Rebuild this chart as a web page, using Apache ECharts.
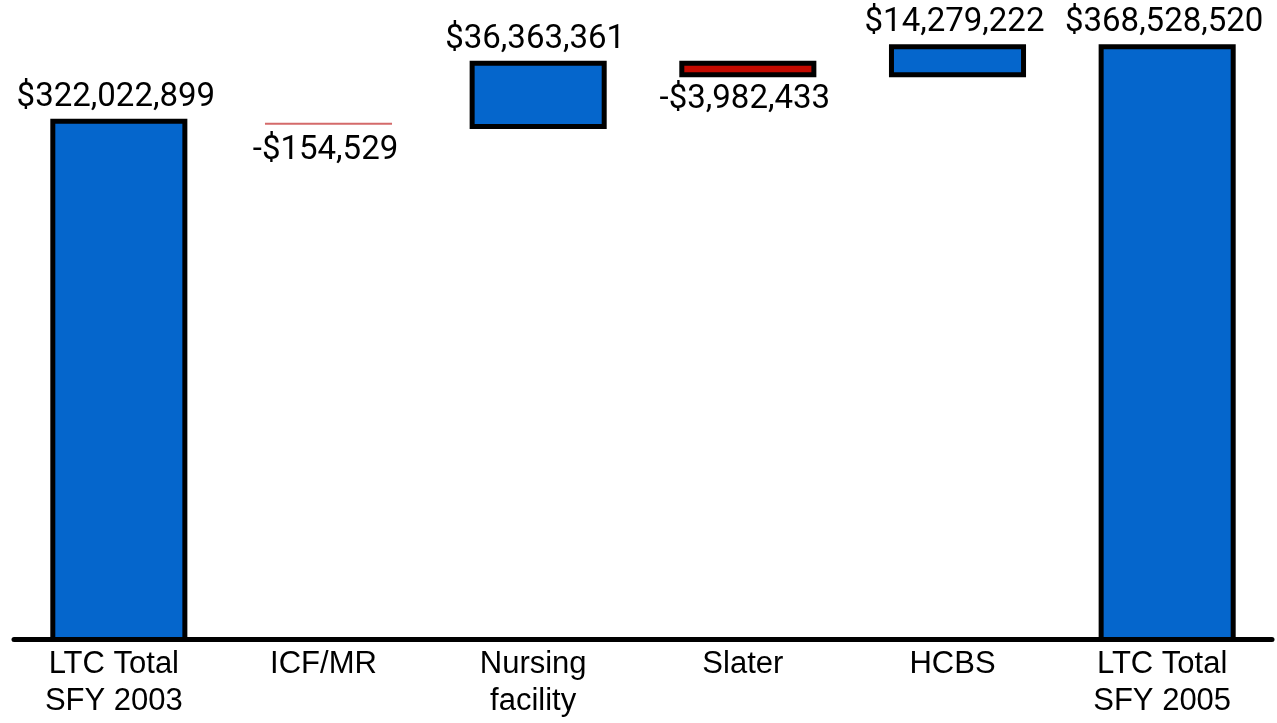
<!DOCTYPE html>
<html>
<head>
<meta charset="utf-8">
<script src="https://cdn.jsdelivr.net/npm/echarts@6/dist/echarts.min.js"></script>
<style>
html,body{margin:0;padding:0;background:#fff;}
#chart{width:1277px;height:723px;}
</style>
</head>
<body>
<div id="chart"></div>
<script>
// Data
var categories = ['LTC Total\nSFY 2003', 'ICF/MR', 'Nursing\nfacility', 'Slater', 'HCBS', 'LTC Total\nSFY 2005'];
var changes = [322022899, -154529, 36363361, -3982433, 14279222, 368528520];
var isTotal = [true, false, false, false, false, true];

var BLUE = '#0566cc', RED = '#c40a00', THIN_RED = '#d46a6a';

// waterfall rows: [index, start, end, signedChange]
var rows = [];
var running = 0;
for (var i = 0; i < changes.length; i++) {
  var v = changes[i];
  if (isTotal[i]) {
    rows.push([i, 0, v, v]);
    running = v;
  } else {
    rows.push([i, running, running + v, v]);
    running += v;
  }
}

function fmt(n) {
  var s = Math.abs(n).toString().replace(/\B(?=(\d{3})+(?!\d))/g, ',');
  return (n < 0 ? '-$' : '$') + s;
}

var B = 5; // outer border width
var LABEL_FONT = '33px Roboto, sans-serif';

function renderItem(params, api) {
  var idx = api.value(0);
  var s = api.value(1), e = api.value(2), ch = api.value(3);
  var lo = Math.min(s, e), hi = Math.max(s, e);
  var pHi = api.coord([idx, hi]);
  var pLo = api.coord([idx, lo]);
  var band = api.size([1, 0])[0];
  var w = band * 0.606;
  var x = pHi[0] - w / 2;
  var yTop = pHi[1];
  var h = pLo[1] - pHi[1];
  var children = [];
  var small = h < 2;
  var outerTop, outerBottom;
  if (small) {
    children.push({type: 'rect', shape: {x: x, y: yTop - 1, width: w, height: 2}, style: {fill: THIN_RED}});
    outerTop = yTop - 1; outerBottom = yTop + 1;
  } else {
    var fill = ch < 0 ? RED : BLUE;
    var bottomExt = lo === 0 ? 0 : B;
    outerTop = yTop - B; outerBottom = yTop + h + bottomExt;
    children.push({type: 'rect', shape: {x: x - B, y: outerTop, width: w + 2 * B, height: h + B + bottomExt}, style: {fill: '#000'}});
    children.push({type: 'rect', shape: {x: x, y: yTop, width: w, height: h}, style: {fill: fill}});
  }
  var cx = pHi[0] - 3;
  if (ch >= 0) {
    children.push({type: 'text', style: {text: fmt(ch), x: cx, y: outerTop - 5, font: LABEL_FONT, fill: '#000', textAlign: 'center', textVerticalAlign: 'bottom'}});
  } else {
    children.push({type: 'text', style: {text: fmt(ch), x: cx, y: outerBottom + (small ? 9 : 6), font: LABEL_FONT, fill: '#000', textAlign: 'center', textVerticalAlign: 'top'}});
  }
  return {type: 'group', children: children};
}

var chart = echarts.init(document.getElementById('chart'));
chart.setOption({
  animation: false,
  grid: {left: 14, right: 5, top: 31, bottom: 84},
  xAxis: {
    type: 'category',
    data: categories,
    axisTick: {show: false},
    axisLine: {lineStyle: {color: '#000', width: 5}, z: 10},
    z: 10,
    axisLabel: {
      color: '#000',
      fontFamily: 'Liberation Sans, Arial, sans-serif',
      fontSize: 31,
      lineHeight: 37,
      margin: 7,
      padding: [0, 10, 0, 0],
      interval: 0
    }
  },
  yAxis: {
    type: 'value',
    min: 0,
    max: 380000000,
    show: false,
    splitLine: {show: false}
  },
  series: [
    {
      type: 'custom',
      renderItem: renderItem,
      encode: {x: 0, y: [1, 2]},
      data: rows,
      clip: false
    }
  ]
});
</script>
</body>
</html>
